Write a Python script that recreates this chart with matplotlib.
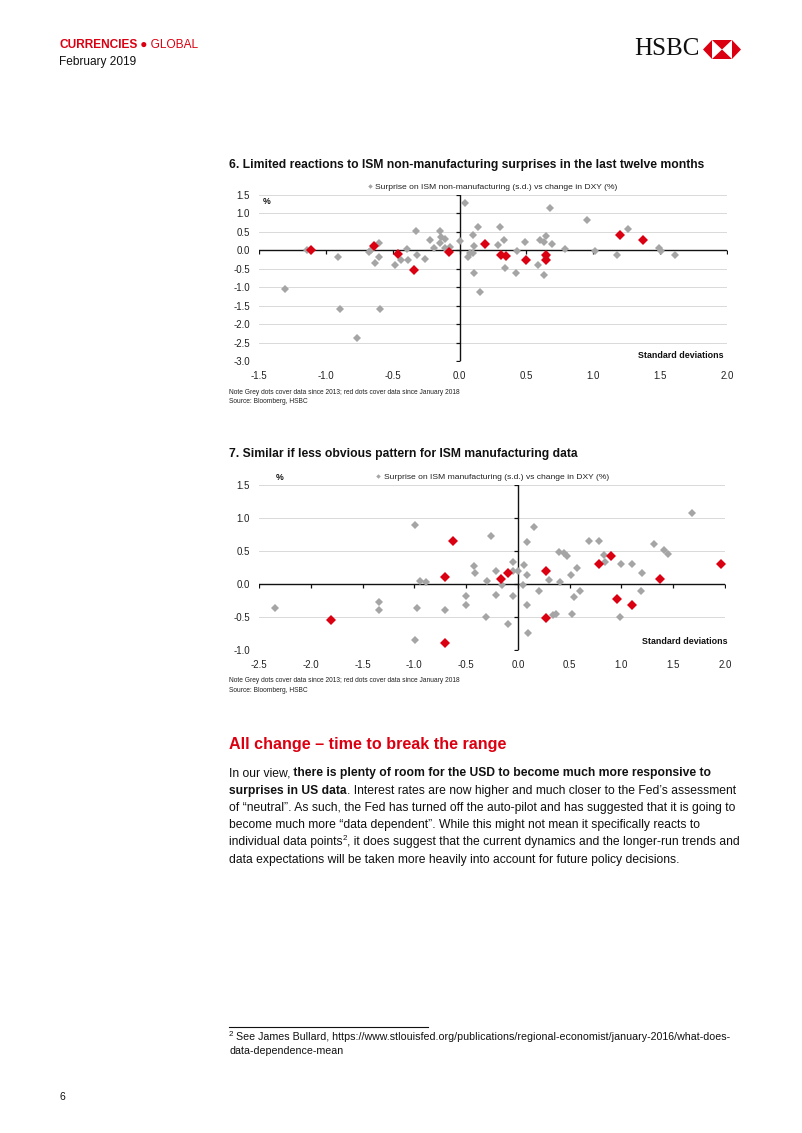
import matplotlib
matplotlib.use("Agg")
import matplotlib.pyplot as plt
from matplotlib.lines import Line2D
from matplotlib.patches import Polygon

plt.rcParams['font.family'] = ['Liberation Sans', 'DejaVu Sans']

# Chart 6: ISM non-manufacturing surprise (s.d.) vs change in DXY (%)
nm_grey_x = [-1.14, -1.305, -0.91, -0.895, -0.77, -0.68, -0.66, -0.63, -0.60, -0.60,
             -0.595, -0.48, -0.44, -0.39, -0.385, -0.325, -0.32, -0.26, -0.22, -0.19,
             -0.15, -0.15, -0.14, -0.11, -0.11, -0.075, 0.0, 0.04, 0.06, 0.075,
             0.10, 0.11, 0.11, 0.14, 0.15, 0.10, 0.29, 0.30, 0.33, 0.34,
             0.42, 0.43, 0.49, 0.59, 0.60, 0.63, 0.63, 0.65, 0.65, 0.69,
             0.68, 0.79, 0.95, 1.01, 1.18, 1.26, 1.49, 1.51, 1.61]
nm_grey_y = [0.0, -1.06, -0.17, -1.6, -2.38, -0.05, 0.0, -0.35, 0.21, -0.17,
             -1.6, -0.39, -0.26, 0.04, -0.26, 0.52, -0.12, -0.23, 0.28, 0.06,
             0.52, 0.21, 0.35, 0.30, 0.05, 0.10, 0.25, 1.29, -0.17, -0.08,
             0.42, 0.13, -0.62, 0.62, -1.14, -0.08, 0.15, 0.62, 0.27, -0.48,
             -0.61, -0.03, 0.22, -0.41, 0.29, -0.68, 0.23, 0.38, -0.18, 0.17,
             1.16, 0.03, 0.83, -0.03, -0.12, 0.59, 0.05, -0.03, -0.12]
nm_red_x = [-1.11, -0.64, -0.46, -0.34, -0.08, 0.19, 0.31, 0.35, 0.50, 0.65, 0.65, 1.20, 1.37]
nm_red_y = [0.0, 0.11, -0.10, -0.53, -0.04, 0.17, -0.12, -0.15, -0.25, -0.14, -0.26, 0.42, 0.28]

# Chart 7: ISM manufacturing surprise (s.d.) vs change in DXY (%)
m_grey_x = [-2.35, -1.34, -1.34, -0.995, -0.995, -0.97, -0.947, -0.89, -0.706, -0.50,
            -0.50, -0.42, -0.41, -0.31, -0.30, -0.256, -0.21, -0.21, -0.15, -0.10,
            -0.05, -0.05, -0.05, 0.0, 0.045, 0.06, 0.09, 0.09, 0.09, 0.10,
            0.155, 0.20, 0.30, 0.34, 0.37, 0.41, 0.40, 0.45, 0.47, 0.51,
            0.52, 0.545, 0.57, 0.595, 0.69, 0.78, 0.83, 0.84, 0.985, 1.00,
            1.10, 1.195, 1.185, 1.31, 1.41, 1.445, 1.685]
m_grey_y = [-0.37, -0.27, -0.39, 0.89, -0.85, -0.37, 0.045, 0.03, -0.39, -0.18,
            -0.32, 0.27, 0.17, -0.50, 0.045, 0.73, 0.20, -0.17, -0.02, -0.60,
            0.34, -0.18, 0.19, 0.20, -0.02, 0.29, 0.64, 0.14, -0.32, -0.75,
            0.86, -0.10, 0.06, -0.47, -0.45, 0.03, 0.49, 0.47, 0.42, 0.14,
            -0.45, -0.20, 0.24, -0.10, 0.65, 0.65, 0.44, 0.33, -0.50, 0.31,
            0.31, 0.16, -0.10, 0.61, 0.51, 0.45, 1.08]
m_red_x = [-1.80, -0.70, -0.63, -0.70, -0.16, -0.10, 0.27, 0.27, 0.785, 0.90, 0.96, 1.105, 1.37, 1.96]
m_red_y = [-0.54, 0.11, 0.65, -0.89, 0.08, 0.17, 0.19, -0.52, 0.31, 0.42, -0.23, -0.32, 0.08, 0.31]

nm_xticks = [-1.5, -1.0, -0.5, 0.0, 0.5, 1.0, 1.5, 2.0]
nm_yticks = [1.5, 1.0, 0.5, 0.0, -0.5, -1.0, -1.5, -2.0, -2.5, -3.0]
m_xticks = [-2.5, -2.0, -1.5, -1.0, -0.5, 0.0, 0.5, 1.0, 1.5, 2.0]
m_yticks = [1.5, 1.0, 0.5, 0.0, -0.5, -1.0]

RED = "#DB0011"
GREY = "#A5A5A5"
W, H = 802, 1133

fig = plt.figure(figsize=(W / 100, H / 100), dpi=100)
page = fig.add_axes([0, 0, 1, 1])
page.set_xlim(0, W)
page.set_ylim(H, 0)
page.axis("off")


def scatter_chart(box, gx, gy, rx, ry, xticks, yticks):
    left, top, right, bottom = box
    ax = fig.add_axes([left / W, 1 - bottom / H, (right - left) / W, (bottom - top) / H])
    ax.patch.set_alpha(0)
    ax.set_xlim(min(xticks), max(xticks))
    ax.set_ylim(min(yticks), max(yticks))
    for s in ax.spines.values():
        s.set_visible(False)
    ax.set_xticks(xticks)
    ax.set_xticklabels([f"{t:.1f}" for t in xticks])
    ax.set_yticks(yticks)
    ax.set_yticklabels([f"{t:.1f}" for t in yticks])
    ax.tick_params(axis="x", length=0, labelsize=7, colors="#222222", pad=7.5)
    ax.tick_params(axis="y", length=0, labelsize=7, colors="#222222", pad=6.5)
    ax.yaxis.grid(True, color="#D9D9D9", lw=0.7)
    ax.set_axisbelow(True)
    ax.axhline(0, color="#111111", lw=1.0, zorder=1)
    ax.axvline(0, color="#111111", lw=1.0, zorder=1)
    ax.plot(xticks, [0] * len(xticks), ls="", marker=3, ms=3, mew=0.9, color="#111111", zorder=1)
    ax.plot([0] * len(yticks), yticks, ls="", marker=0, ms=3, mew=0.9, color="#111111", zorder=1)
    ax.plot(gx, gy, ls="", marker="D", ms=3.8, mew=0, color=GREY, zorder=3)
    ax.plot(rx, ry, ls="", marker="D", ms=5.1, mew=0, color=RED, zorder=4)
    return ax


def legend(label, cx, cy):
    h = Line2D([], [], ls="", marker="D", ms=2.3, mew=0, color=GREY)
    fig.legend([h], [label], loc="center", bbox_to_anchor=(cx / W, 1 - cy / H),
               frameon=False, fontsize=6.1, handlelength=0.7, handletextpad=0.3,
               borderpad=0, borderaxespad=0, labelcolor="#222222")


def txt(x, y, s, **kw):
    kw.setdefault("va", "center")
    kw.setdefault("ha", "left")
    return page.text(x, y, s, **kw)


def runs(x, y, parts, size):
    prev = txt(x, y, parts[0][0], fontsize=size, weight=parts[0][1], color="#111111")
    for s, w in parts[1:]:
        prev = page.annotate(s, xy=(1, 0), xycoords=prev, va="bottom", ha="left",
                             fontsize=size, weight=w, color="#111111")
    return prev


# header
cur = txt(59, 45, "CURRENCIES", fontsize=8.6, weight="bold", color=RED)
page.annotate(" \u25CF GLOBAL", xy=(1, 0), xycoords=cur, va="bottom", ha="left",
              fontsize=8.6, color=RED)
txt(59, 62, "February 2019", fontsize=8.6, color="#111111")
txt(700, 49, "HSBC", fontsize=18, family=["Liberation Serif", "DejaVu Serif"],
    ha="right", color="#111111")

# HSBC hexagon mark
hx = [703, 712, 732, 741]
hy = [40, 49.5, 59]
page.add_patch(Polygon([(hx[0], hy[1]), (hx[1], hy[0]), (hx[1], hy[2])], color=RED, lw=0))
page.add_patch(Polygon([(hx[3], hy[1]), (hx[2], hy[0]), (hx[2], hy[2])], color=RED, lw=0))
page.add_patch(Polygon([(hx[1], hy[0]), (hx[2], hy[0]), ((hx[1] + hx[2]) / 2, hy[1])], color=RED, lw=0))
page.add_patch(Polygon([(hx[1], hy[2]), (hx[2], hy[2]), ((hx[1] + hx[2]) / 2, hy[1])], color=RED, lw=0))

# chart 6
txt(229, 165, "6. Limited reactions to ISM non-manufacturing surprises in the last twelve months",
    fontsize=8.7, weight="bold", color="#111111")
ax1 = scatter_chart((259, 195, 727, 361), nm_grey_x, nm_grey_y, nm_red_x, nm_red_y, nm_xticks, nm_yticks)
legend("Surprise on ISM non-manufacturing (s.d.) vs change in DXY (%)", 492, 187)
txt(263, 202, "%", fontsize=6.3, weight="bold", color="#111111")
txt(724, 356, "Standard deviations", fontsize=6.4, weight="bold", ha="right", color="#111111")
txt(229, 392.5, "Note Grey dots cover data since 2013; red dots cover data since January 2018",
    fontsize=4.8, color="#222222")
txt(229, 401.5, "Source: Bloomberg, HSBC", fontsize=4.8, color="#222222")

# chart 7
txt(229, 454, "7. Similar if less obvious pattern for ISM manufacturing data",
    fontsize=8.7, weight="bold", color="#111111")
ax2 = scatter_chart((259, 485, 725, 650), m_grey_x, m_grey_y, m_red_x, m_red_y, m_xticks, m_yticks)
legend("Surprise on ISM manufacturing (s.d.) vs change in DXY (%)", 492, 477)
txt(276, 477, "%", fontsize=6.3, weight="bold", color="#111111")
txt(728, 642, "Standard deviations", fontsize=6.4, weight="bold", ha="right", color="#111111")
txt(229, 680.7, "Note Grey dots cover data since 2013; red dots cover data since January 2018",
    fontsize=4.8, color="#222222")
txt(229, 690, "Source: Bloomberg, HSBC", fontsize=4.8, color="#222222")

# body text
txt(229, 744.5, "All change \u2013 time to break the range", fontsize=11.6, weight="bold", color=RED)
body = 8.75
runs(229, 773.3, [("In our view,", "normal"),
                  (" there is plenty of room for the USD to become much more responsive to", "bold")], body)
runs(229, 790.7, [("surprises in US data", "bold"),
                  (". Interest rates are now higher and much closer to the Fed\u2019s assessment", "normal")], body)
txt(229, 807.9, "of \u201cneutral\u201d. As such, the Fed has turned off the auto-pilot and has suggested that it is going to",
    fontsize=body, color="#111111")
txt(229, 825.2, "become much more \u201cdata dependent\u201d. While this might not mean it specifically reacts to",
    fontsize=body, color="#111111")
pts = txt(229, 842.5, "individual data points", fontsize=body, color="#111111")
sup = page.annotate("2", xy=(1, 0.55), xycoords=pts, va="bottom", ha="left", fontsize=5.8, color="#111111")
page.annotate(", it does suggest that the current dynamics and the longer-run trends and",
              xy=(1, 0), xycoords=(sup, pts), va="bottom", ha="left", fontsize=body, color="#111111")
txt(229, 859.8, "data expectations will be taken more heavily into account for future policy decisions.",
    fontsize=body, color="#111111")

# footnote
page.plot([229, 428], [1027, 1027], color="#111111", lw=0.8)
txt(229, 1034, "2", fontsize=5.8, color="#111111")
txt(236, 1037.5, "See James Bullard, https://www.stlouisfed.org/publications/regional-economist/january-2016/what-does-",
    fontsize=7.7, color="#111111")
txt(229, 1050.5, "data-dependence-mean", fontsize=7.7, color="#111111")
txt(59, 1097, "6", fontsize=7.5, color="#111111")

fig.savefig("out.png", dpi=100)
